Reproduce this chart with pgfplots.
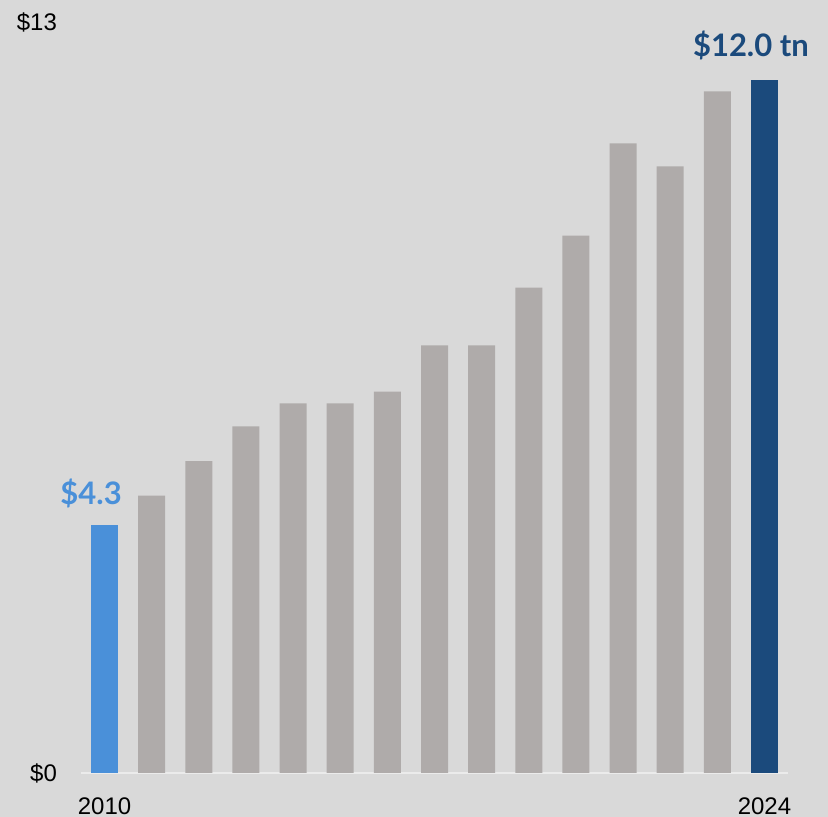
\documentclass[border=0pt]{standalone}
\usepackage{pgfplots}
\pgfplotsset{compat=1.18}
\usepackage{fontspec}
\setmainfont{Liberation Sans}
\newfontfamily\labfont{Lato}
\definecolor{bgc}{HTML}{D9D9D9}
\definecolor{barg}{HTML}{AFABAA}
\definecolor{lblue}{HTML}{4A90D9}
\definecolor{dblue}{HTML}{1B4A7C}
\definecolor{axc}{HTML}{EBEBEB}
\begin{document}
\begin{tikzpicture}
\fill[bgc] (0,0) rectangle (414pt,408.5pt);
\useasboundingbox (0,0) rectangle (414pt,408.5pt);
\begin{axis}[
  at={(40.5pt,22pt)}, anchor=south west,
  scale only axis, width=353.5pt, height=375.5pt,
  xmin=-0.5, xmax=14.5, ymin=0, ymax=13,
  axis x line*=bottom, axis y line*=left,
  y axis line style={draw=none},
  x axis line style={draw=axc, line width=1pt, -},
  major tick length=0pt,
  xtick={0,14}, xticklabels={2010,2024},
  ytick={0,13}, yticklabels={\$0,\$13},
  tick label style={font=\fontsize{12}{14}\selectfont, text=black},
  yticklabel style={xshift=-8.5pt},
  xticklabel style={yshift=-9pt},
  ybar, bar width=13.5pt, bar shift=0pt,
  clip=false,
]
\addplot[fill=lblue, draw=none] coordinates {(0,4.3)};
\addplot[fill=barg, draw=none] coordinates {
(1,4.8) (2,5.4) (3,6.0) (4,6.4) (5,6.4) (6,6.6) (7,7.4) (8,7.4)
(9,8.4) (10,9.3) (11,10.9) (12,10.5) (13,11.8)};
\addplot[fill=dblue, draw=none] coordinates {(14,12.0)};
\node[anchor=base, inner sep=0pt, text=lblue, font=\labfont\bfseries\fontsize{15.5}{18}\selectfont, yshift=10pt] at (axis cs:-0.286,4.3) {\$4.3};
\node[anchor=base, inner sep=0pt, text=dblue, font=\labfont\bfseries\fontsize{15.5}{18}\selectfont, yshift=11.5pt] at (axis cs:13.714,12.0) {\$12.0 tn};
\end{axis}
\end{tikzpicture}
\end{document}
